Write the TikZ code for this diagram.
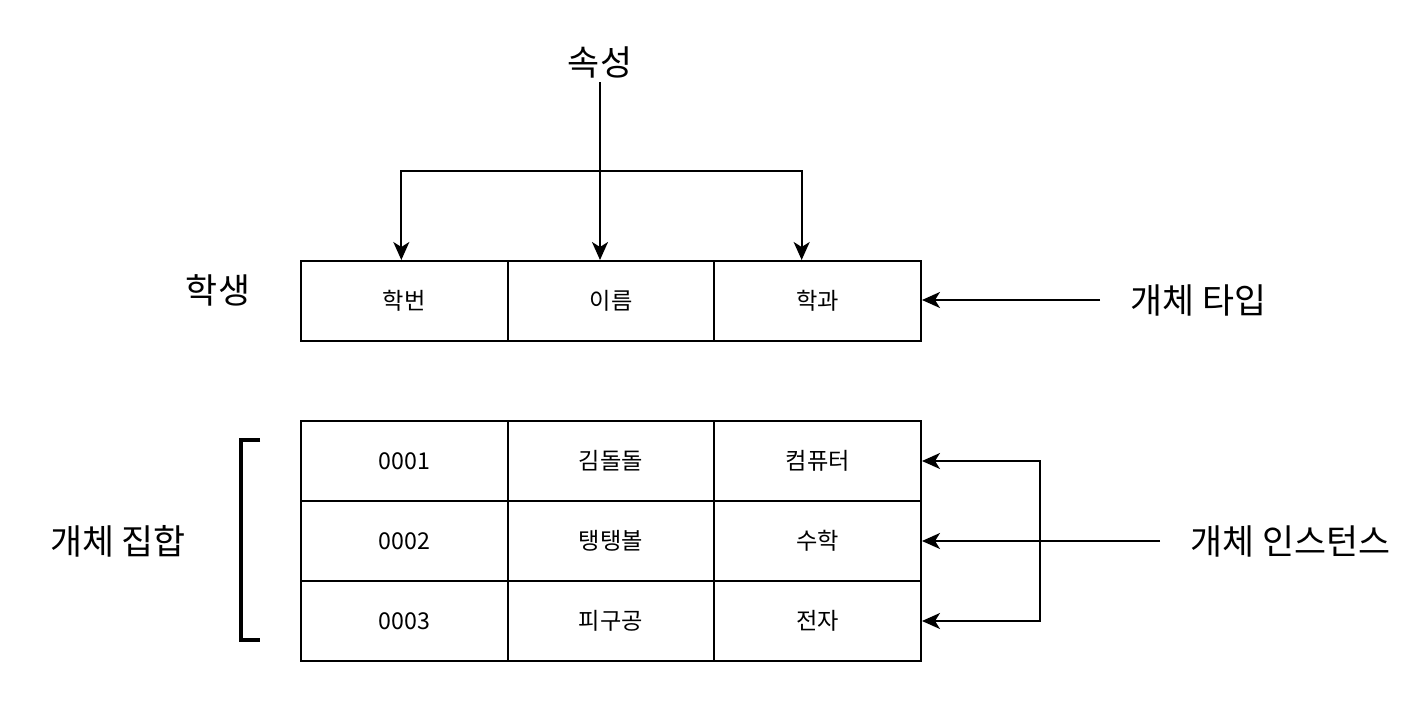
\documentclass[tikz,border=0pt]{standalone}
\usepackage{fontspec}
\setmainfont{Noto Sans CJK KR}
\usetikzlibrary{arrows.meta}

\tikzset{
  cell/.style={draw,line width=1pt,minimum width=103.33pt,minimum height=40pt,inner sep=0pt,font=\fontsize{11.6}{13}\selectfont},
  biglbl/.style={font=\fontsize{17.4}{20}\selectfont,inner sep=0pt},
  sidelbl/.style={biglbl,anchor=west,inner xsep=15pt},
  conn/.style={line width=1pt},
  arr/.style={conn,-{Stealth[length=9pt,width=8pt,inset=2.5pt]}}
}

\begin{document}
\begin{tikzpicture}[x=0.5pt,y=-0.5pt]
    \useasboundingbox (0,0) rectangle (1426,712);

    % Tipo dell'entita' (una riga)
    \node[cell] (t1) at (404.33,301) {학번};
    \node[cell] (t2) at (611,301) {이름};
    \node[cell] (t3) at (817.67,301) {학과};
    \node[biglbl] (stud) at (218,290) {학생};

    % Istanze (tre righe)
    \node[cell] (r1c1) at (404.33,461) {0001};
    \node[cell] (r1c2) at (611,461) {김돌돌};
    \node[cell] (r1c3) at (817.67,461) {컴퓨터};
    \node[cell] (r2c1) at (404.33,541) {0002};
    \node[cell] (r2c2) at (611,541) {탱탱볼};
    \node[cell] (r2c3) at (817.67,541) {수학};
    \node[cell] (r3c1) at (404.33,621) {0003};
    \node[cell] (r3c2) at (611,621) {피구공};
    \node[cell] (r3c3) at (817.67,621) {전자};

    % Attributi
    \node[biglbl,inner ysep=2pt] (attr) at (600,62) {속성};
    \coordinate (split) at (600,171);
    \draw[conn] (attr.south) -- (split);
    \draw[arr] (split) -- (split |- t2.north);
    \draw[arr] (split) -| ([xshift=-1.5pt]t1.north);
    \draw[arr] (split) -| ([xshift=-8pt]t3.north);

    % Tipo dell'entita'
    \node[sidelbl] (typelbl) at (1100,300) {개체 타입};
    \draw[arr] (typelbl.west) -- (typelbl.west -| t3.east);

    % Istanze dell'entita'
    \node[sidelbl] (instlbl) at (1160,541) {개체 인스턴스};
    \coordinate (fork) at (1040,541);
    \draw[arr] (instlbl.west) -- (r2c3.east);
    \draw[arr] (fork) |- (r1c3.east);
    \draw[arr] (fork) |- (r3c3.east);

    % Insieme delle entita'
    \draw[line width=2.3pt] (260,440) -| (241,640) -- (260,640);
    \node[biglbl] (setlbl) at (118,541) {개체 집합};
\end{tikzpicture}
\end{document}
